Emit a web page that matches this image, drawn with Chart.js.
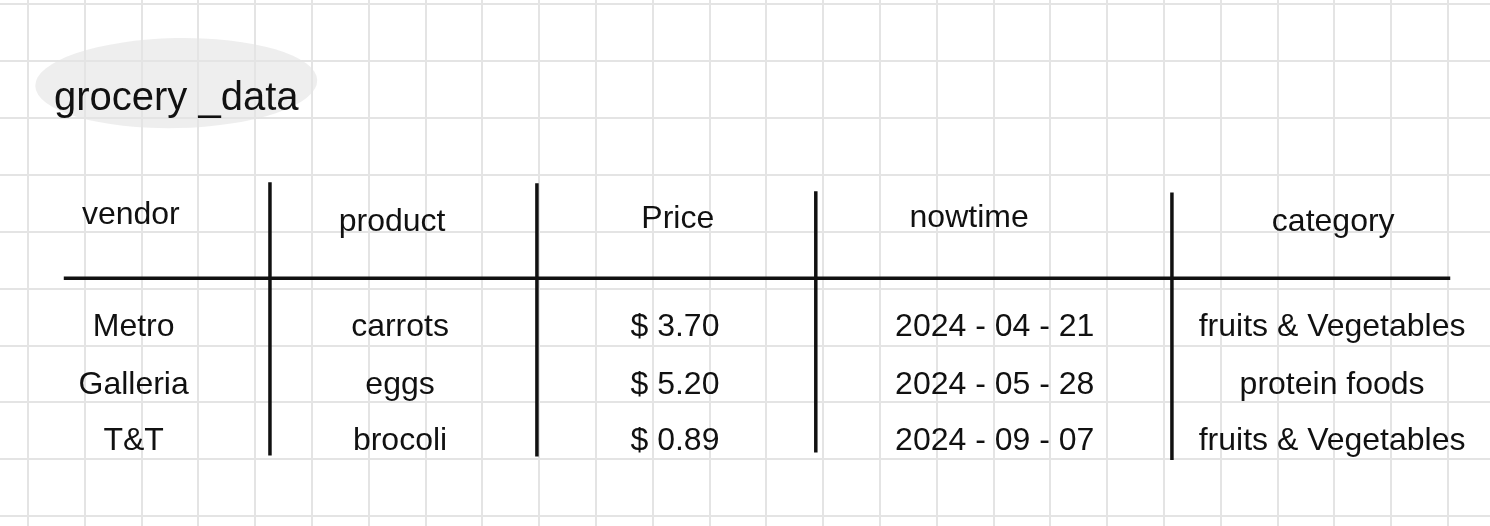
<!DOCTYPE html>
<html>
<head>
<meta charset="utf-8">
<title>grocery_data</title>
<script src="https://cdn.jsdelivr.net/npm/chart.js@4.4.1/dist/chart.umd.min.js"></script>
<style>
  html, body { margin: 0; padding: 0; background: #fff; }
  #wrap { width: 1490px; height: 526px; position: relative; }
</style>
</head>
<body>
<div id="wrap"><canvas id="gridChart"></canvas></div>
<script>
const title = 'grocery _data';
const headers = ['vendor', 'product', 'Price', 'nowtime', 'category'];
const vendors = ['Metro', 'Galleria', 'T&T'];
const products = ['carrots', 'eggs', 'brocoli'];
const prices = [3.70, 5.20, 0.89];
const nowtimes = ['2024-04-21', '2024-05-28', '2024-09-07'];
const categories = ['fruits & Vegetables', 'protein foods', 'fruits & Vegetables'];

// layout, counted in squares of the graph paper
const headerX = [1.81, 6.41, 11.44, 16.57, 22.98];
const headerY = [3.71, 3.83, 3.78, 3.76, 3.83];
const cellX = [1.86, 6.55, 11.39, 17.02, 22.96];
const rowY = [5.68, 6.70, 7.68];
const dividerX = [4.26, 8.96, 13.87, 20.14];
const dividerTop = [3.13, 3.15, 3.29, 3.31];
const dividerBottom = [7.93, 7.95, 7.88, 8.01];
const ruleY = 4.82, ruleLeft = 0.63, ruleRight = 25.04;

const INK = '#111';
const FONT = '"Liberation Sans", Arial, sans-serif';

const columns = [
    vendors,
    products,
    prices.map(function (p) { return '$ ' + p.toFixed(2); }),
    nowtimes.map(function (d) { return d.split('-').join(' - '); }),
    categories
];

const datasets = [];

// table rules
datasets.push({
    type: 'line',
    data: [{ x: ruleLeft, y: ruleY }, { x: ruleRight, y: ruleY }],
    borderColor: INK, borderWidth: 3.5, pointRadius: 0
});
dividerX.forEach(function (x, k) {
    datasets.push({
        type: 'line',
        data: [{ x: x, y: dividerTop[k] }, { x: x, y: dividerBottom[k] }],
        borderColor: INK, borderWidth: 3.5, pointRadius: 0
    });
});

// text
datasets.push({
    texts: [title], size: 40,
    data: [{ x: 2.61, y: 1.67 }]
});
datasets.push({
    texts: headers, size: 32,
    data: headers.map(function (h, c) { return { x: headerX[c], y: headerY[c] }; })
});
columns.forEach(function (col, c) {
    datasets.push({
        texts: col, size: 32,
        data: col.map(function (v, i) { return { x: cellX[c], y: rowY[i] }; })
    });
});
datasets.forEach(function (ds) {
    if (ds.texts) { ds.type = 'scatter'; ds.pointRadius = 0; }
});

const integerTicks = function (lo, hi) {
    return function (scale) {
        const t = [];
        for (let v = lo; v <= hi; v++) t.push({ value: v });
        scale.ticks = t;
    };
};

const paperPlugin = {
    id: 'paper',
    beforeDatasetsDraw: function (chart) {
        const ctx = chart.ctx, sx = chart.scales.x, sy = chart.scales.y;
        const cx = sx.getPixelForValue(2.61), cy = sy.getPixelForValue(1.39);
        ctx.save();
        ctx.fillStyle = 'rgba(228,228,228,0.62)';
        ctx.beginPath();
        ctx.ellipse(cx, cy, 141, 45, -0.02, 0, Math.PI * 2);
        ctx.fill();
        ctx.restore();
    },
    afterDatasetsDraw: function (chart) {
        const ctx = chart.ctx;
        ctx.save();
        ctx.fillStyle = INK;
        ctx.textAlign = 'center';
        ctx.textBaseline = 'middle';
        chart.data.datasets.forEach(function (ds, i) {
            if (!ds.texts) return;
            ctx.font = ds.size + 'px ' + FONT;
            chart.getDatasetMeta(i).data.forEach(function (pt, j) {
                ctx.fillText(ds.texts[j], pt.x, pt.y);
            });
        });
        ctx.restore();
    }
};

const gridOpts = { color: '#e4e4e4', lineWidth: 2, drawTicks: false };

new Chart(document.getElementById('gridChart').getContext('2d'), {
    type: 'scatter',
    data: { datasets: datasets },
    plugins: [paperPlugin],
    options: {
        responsive: true,
        maintainAspectRatio: false,
        animation: false,
        layout: { padding: 0 },
        plugins: { legend: { display: false }, tooltip: { enabled: false } },
        scales: {
            x: {
                type: 'linear', min: -0.493, max: 25.74,
                ticks: { display: false, stepSize: 1 },
                grid: gridOpts, border: { display: false },
                afterBuildTicks: integerTicks(0, 25)
            },
            y: {
                type: 'linear', reverse: true, min: -0.07, max: 9.17,
                ticks: { display: false, stepSize: 1 },
                grid: gridOpts, border: { display: false },
                afterBuildTicks: integerTicks(0, 9)
            }
        }
    }
});
</script>
</body>
</html>
